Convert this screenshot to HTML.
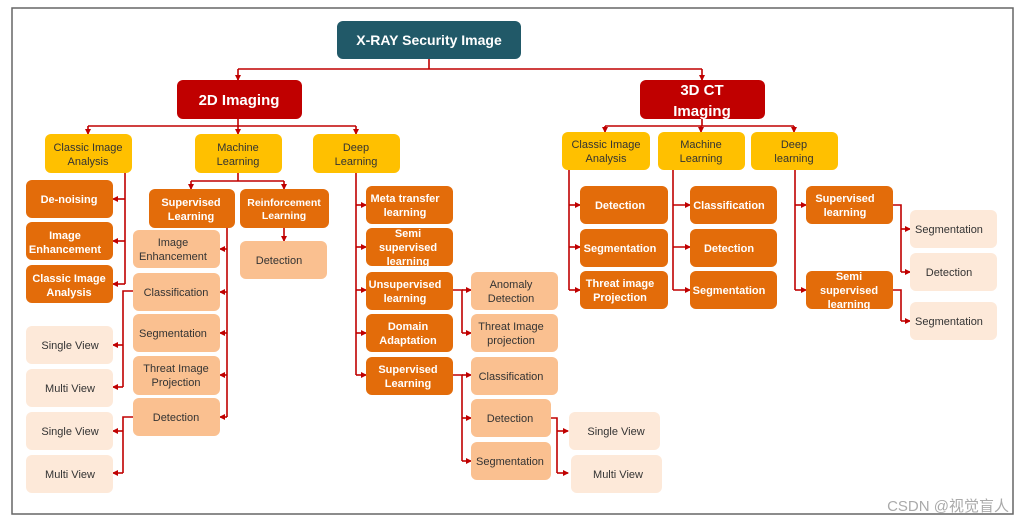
<!DOCTYPE html>
<html><head><meta charset="utf-8"><style>
html,body{margin:0;padding:0;background:#fff;width:1022px;height:523px;overflow:hidden}
svg{display:block}
text{font-family:"Liberation Sans",Arial,sans-serif;font-size:11px;text-anchor:middle}
.w{fill:#fff;font-weight:bold}
.d{fill:#333}
.o{fill:#e36c0a}.y{fill:#ffc000}.l{fill:#fac090}.p{fill:#fde9d9}
.c{stroke:#c00000;stroke-width:1.6;fill:none}
</style></head><body>
<svg width="1022" height="523" viewBox="0 0 1022 523">
<defs><marker id="a" markerWidth="6" markerHeight="6" refX="5" refY="3" orient="auto" markerUnits="userSpaceOnUse"><path d="M0,0 L6,3 L0,6 z" fill="#c00000"/></marker></defs>
<rect x="12" y="8" width="1001" height="506" fill="none" stroke="#666" stroke-width="1.5"/>

<!-- connectors -->
<g class="c">
<path d="M429,59 V69 M238,69 H702"/>
<path d="M238,69 V80" marker-end="url(#a)"/><path d="M702,69 V80" marker-end="url(#a)"/>
<path d="M238,119 V126 M88,126 H356"/>
<path d="M88,126 V134" marker-end="url(#a)"/><path d="M238,126 V134" marker-end="url(#a)"/><path d="M356,126 V134" marker-end="url(#a)"/>
<!-- classic 2D -->
<path d="M125,173 V284"/>
<path d="M125,199 H113" marker-end="url(#a)"/><path d="M125,241 H113" marker-end="url(#a)"/><path d="M125,284 H113" marker-end="url(#a)"/>
<!-- ML 2D -->
<path d="M238,173 V181 M191,181 H284"/>
<path d="M191,181 V189" marker-end="url(#a)"/><path d="M284,181 V189" marker-end="url(#a)"/>
<path d="M284,228 V241" marker-end="url(#a)"/>
<path d="M227,228 V417"/>
<path d="M227,249 H220" marker-end="url(#a)"/><path d="M227,292 H220" marker-end="url(#a)"/><path d="M227,333 H220" marker-end="url(#a)"/><path d="M227,375 H220" marker-end="url(#a)"/><path d="M227,417 H220" marker-end="url(#a)"/>
<path d="M133,291 H123 V387"/>
<path d="M123,345 H113" marker-end="url(#a)"/><path d="M123,387 H113" marker-end="url(#a)"/>
<path d="M133,417 H123 V473"/>
<path d="M123,431 H113" marker-end="url(#a)"/><path d="M123,473 H113" marker-end="url(#a)"/>
<!-- Deep 2D -->
<path d="M356,173 V375"/>
<path d="M356,205 H366" marker-end="url(#a)"/><path d="M356,247 H366" marker-end="url(#a)"/><path d="M356,290 H366" marker-end="url(#a)"/><path d="M356,333 H366" marker-end="url(#a)"/><path d="M356,375 H366" marker-end="url(#a)"/>
<path d="M453,290 H462 V333"/>
<path d="M462,290 H471" marker-end="url(#a)"/><path d="M462,333 H471" marker-end="url(#a)"/>
<path d="M453,375 H462 V461"/>
<path d="M462,375 H471" marker-end="url(#a)"/><path d="M462,418 H471" marker-end="url(#a)"/><path d="M462,461 H471" marker-end="url(#a)"/>
<path d="M551,418 H557 V473"/>
<path d="M557,431 H568" marker-end="url(#a)"/><path d="M557,473 H568" marker-end="url(#a)"/>
<!-- 3D -->
<path d="M702,119 V126 M605,126 H794"/>
<path d="M605,126 V132" marker-end="url(#a)"/><path d="M701,126 V132" marker-end="url(#a)"/><path d="M794,126 V132" marker-end="url(#a)"/>
<path d="M569,170 V290"/>
<path d="M569,205 H580" marker-end="url(#a)"/><path d="M569,247 H580" marker-end="url(#a)"/><path d="M569,290 H580" marker-end="url(#a)"/>
<path d="M673,170 V290"/>
<path d="M673,205 H690" marker-end="url(#a)"/><path d="M673,247 H690" marker-end="url(#a)"/><path d="M673,290 H690" marker-end="url(#a)"/>
<path d="M795,170 V290"/>
<path d="M795,205 H806" marker-end="url(#a)"/><path d="M795,290 H806" marker-end="url(#a)"/>
<path d="M893,205 H901 V272"/>
<path d="M901,229 H910" marker-end="url(#a)"/><path d="M901,272 H910" marker-end="url(#a)"/>
<path d="M893,290 H901 V321"/>
<path d="M901,321 H910" marker-end="url(#a)"/>
</g>

<!-- root -->
<rect x="337" y="21" width="184" height="38" rx="6" fill="#215968"/>
<text x="429" y="45" class="w" style="font-size:14px">X-RAY Security Image</text>
<rect x="177" y="80" width="125" height="39" rx="6" fill="#c00000"/>
<text x="239" y="105" class="w" style="font-size:15px">2D Imaging</text>
<rect x="640" y="80" width="125" height="39" rx="6" fill="#c00000"/>
<text x="702" y="95" class="w" style="font-size:15px">3D CT</text>
<text x="702" y="116" class="w" style="font-size:15px">Imaging</text>

<!-- 2D yellows -->
<rect class="y" x="45" y="134" width="87" height="39" rx="6"/><text class="d" x="88" y="151">Classic Image</text><text class="d" x="88" y="165">Analysis</text>
<rect class="y" x="195" y="134" width="87" height="39" rx="6"/><text class="d" x="238" y="151">Machine</text><text class="d" x="238" y="165">Learning</text>
<rect class="y" x="313" y="134" width="87" height="39" rx="6"/><text class="d" x="356" y="151">Deep</text><text class="d" x="356" y="165">Learning</text>

<!-- classic 2D -->
<rect class="o" x="26" y="180" width="87" height="38" rx="6"/><text class="w" x="69" y="203">De-noising</text>
<rect class="o" x="26" y="222" width="87" height="38" rx="6"/><text class="w" x="65" y="239">Image</text><text class="w" x="65" y="253">Enhancement</text>
<rect class="o" x="26" y="265" width="87" height="38" rx="6"/><text class="w" x="69" y="282">Classic Image</text><text class="w" x="69" y="296">Analysis</text>

<!-- ML 2D -->
<rect class="o" x="149" y="189" width="86" height="39" rx="6"/><text class="w" x="191" y="206">Supervised</text><text class="w" x="191" y="220">Learning</text>
<rect class="o" x="240" y="189" width="89" height="39" rx="6"/><text class="w" x="284" y="206" style="font-size:10.5px">Reinforcement</text><text class="w" x="284" y="219" style="font-size:10.5px">Learning</text>
<rect class="l" x="240" y="241" width="87" height="38" rx="6"/><text class="d" x="279" y="264">Detection</text>
<rect class="l" x="133" y="230" width="87" height="38" rx="6"/><text class="d" x="173" y="246">Image</text><text class="d" x="173" y="260">Enhancement</text>
<rect class="l" x="133" y="273" width="87" height="38" rx="6"/><text class="d" x="176" y="296">Classification</text>
<rect class="l" x="133" y="314" width="87" height="38" rx="6"/><text class="d" x="173" y="337">Segmentation</text>
<rect class="l" x="133" y="356" width="87" height="39" rx="6"/><text class="d" x="176" y="372">Threat Image</text><text class="d" x="176" y="386">Projection</text>
<rect class="l" x="133" y="398" width="87" height="38" rx="6"/><text class="d" x="176" y="421">Detection</text>
<rect class="p" x="26" y="326" width="87" height="38" rx="6"/><text class="d" x="70" y="349">Single View</text>
<rect class="p" x="26" y="369" width="87" height="38" rx="6"/><text class="d" x="70" y="392">Multi View</text>
<rect class="p" x="26" y="412" width="87" height="38" rx="6"/><text class="d" x="70" y="435">Single View</text>
<rect class="p" x="26" y="455" width="87" height="38" rx="6"/><text class="d" x="70" y="478">Multi View</text>

<!-- Deep 2D -->
<rect class="o" x="366" y="186" width="87" height="38" rx="6"/><text class="w" x="405" y="202">Meta transfer</text><text class="w" x="405" y="216">learning</text>
<rect class="o" x="366" y="228" width="87" height="38" rx="6"/><text class="w" x="408" y="237">Semi</text><text class="w" x="408" y="251">supervised</text><text class="w" x="408" y="265">learning</text>
<rect class="o" x="366" y="272" width="87" height="38" rx="6"/><text class="w" x="405" y="288">Unsupervised</text><text class="w" x="405" y="302">learning</text>
<rect class="o" x="366" y="314" width="87" height="38" rx="6"/><text class="w" x="408" y="330">Domain</text><text class="w" x="408" y="344">Adaptation</text>
<rect class="o" x="366" y="357" width="87" height="38" rx="6"/><text class="w" x="408" y="373">Supervised</text><text class="w" x="408" y="387">Learning</text>
<rect class="l" x="471" y="272" width="87" height="38" rx="6"/><text class="d" x="511" y="288">Anomaly</text><text class="d" x="511" y="302">Detection</text>
<rect class="l" x="471" y="314" width="87" height="38" rx="6"/><text class="d" x="511" y="330">Threat Image</text><text class="d" x="511" y="344">projection</text>
<rect class="l" x="471" y="357" width="87" height="38" rx="6"/><text class="d" x="511" y="380">Classification</text>
<rect class="l" x="471" y="399" width="80" height="38" rx="6"/><text class="d" x="510" y="422">Detection</text>
<rect class="l" x="471" y="442" width="80" height="38" rx="6"/><text class="d" x="510" y="465">Segmentation</text>
<rect class="p" x="569" y="412" width="91" height="38" rx="6"/><text class="d" x="616" y="435">Single View</text>
<rect class="p" x="571" y="455" width="91" height="38" rx="6"/><text class="d" x="618" y="478">Multi View</text>

<!-- 3D -->
<rect class="y" x="562" y="132" width="88" height="38" rx="6"/><text class="d" x="606" y="148">Classic Image</text><text class="d" x="606" y="162">Analysis</text>
<rect class="y" x="658" y="132" width="87" height="38" rx="6"/><text class="d" x="701" y="148">Machine</text><text class="d" x="701" y="162">Learning</text>
<rect class="y" x="751" y="132" width="87" height="38" rx="6"/><text class="d" x="794" y="148">Deep</text><text class="d" x="794" y="162">learning</text>
<rect class="o" x="580" y="186" width="88" height="38" rx="6"/><text class="w" x="620" y="209">Detection</text>
<rect class="o" x="580" y="229" width="88" height="38" rx="6"/><text class="w" x="620" y="252">Segmentation</text>
<rect class="o" x="580" y="271" width="88" height="38" rx="6"/><text class="w" x="620" y="287">Threat image</text><text class="w" x="620" y="301">Projection</text>
<rect class="o" x="690" y="186" width="87" height="38" rx="6"/><text class="w" x="729" y="209">Classification</text>
<rect class="o" x="690" y="229" width="87" height="38" rx="6"/><text class="w" x="729" y="252">Detection</text>
<rect class="o" x="690" y="271" width="87" height="38" rx="6"/><text class="w" x="729" y="294">Segmentation</text>
<rect class="o" x="806" y="186" width="87" height="38" rx="6"/><text class="w" x="845" y="202">Supervised</text><text class="w" x="845" y="216">learning</text>
<rect class="o" x="806" y="271" width="87" height="38" rx="6"/><text class="w" x="849" y="280">Semi</text><text class="w" x="849" y="294">supervised</text><text class="w" x="849" y="308">learning</text>
<rect class="p" x="910" y="210" width="87" height="38" rx="6"/><text class="d" x="949" y="233">Segmentation</text>
<rect class="p" x="910" y="253" width="87" height="38" rx="6"/><text class="d" x="949" y="276">Detection</text>
<rect class="p" x="910" y="302" width="87" height="38" rx="6"/><text class="d" x="949" y="325">Segmentation</text>

<text x="1009" y="511" style="text-anchor:end;font-size:15px;fill:#aaa;font-family:'Liberation Sans','Noto Sans CJK SC',sans-serif">CSDN @视觉盲人</text>
</svg>
</body></html>
